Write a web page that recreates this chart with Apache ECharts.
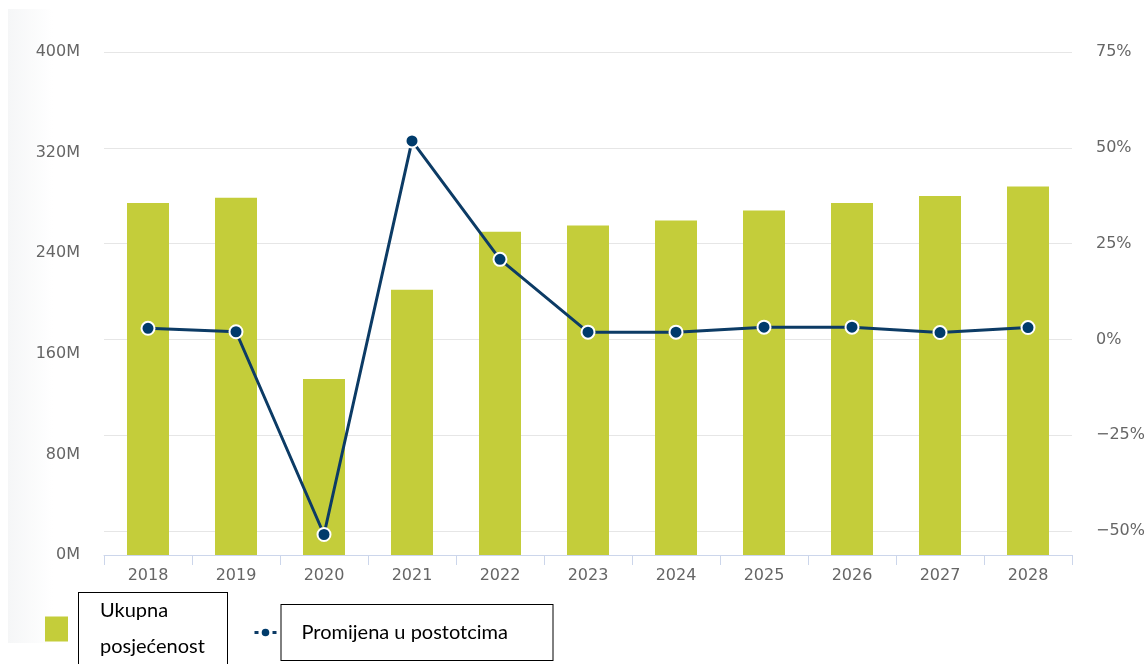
<!DOCTYPE html>
<html>
<head>
<meta charset="utf-8">
<script src="https://cdn.jsdelivr.net/npm/echarts@6/dist/echarts.min.js"></script>
<style>
    html, body { margin: 0; padding: 0; background: #fff; }
    #chart { width: 1148px; height: 664px; }
</style>
</head>
<body>
<div id="chart"></div>
<script>
const years = ["2018", "2019", "2020", "2021", "2022", "2023", "2024", "2025", "2026", "2027", "2028"];
// ukupna posjecenost, u milijunima
const attendance = [280, 284, 140, 211, 257, 262, 266, 274, 280, 285.5, 293];
// promjena u postotcima
const change = [2.9, 2.0, -50.9, 51.8, 20.9, 1.9, 1.9, 3.2, 3.2, 1.8, 3.1];
const leftTicks = [0, 80, 160, 240, 320, 400];
const rightTicks = [-50, -25, 0, 25, 50, 75];

const BAR_NAME = "Ukupna posjećenost";
const LINE_NAME = "Promijena u postotcima";
const labelFont = "DejaVu Sans";

const chart = echarts.init(document.getElementById("chart"));

chart.setOption({
    animation: false,
    backgroundColor: "#fff",
    graphic: [
        {
            type: "rect",
            z: -10,
            shape: { x: 8, y: 9, width: 45, height: 634 },
            style: {
                fill: new echarts.graphic.LinearGradient(0, 0, 1, 0, [
                    { offset: 0, color: "#f5f6f7" },
                    { offset: 1, color: "#ffffff" }
                ])
            }
        }
    ],
    legend: [
        {
            left: 45,
            top: 592,
            padding: 0,
            itemWidth: 29,
            itemHeight: 25,
            data: [
                {
                    name: BAR_NAME,
                    // square plus an empty point, so the box sits a bit further right
                    icon: "path://M0,0H23V25H0Z M29,25Z",
                    textStyle: {
                        fontFamily: "Lato",
                        fontSize: 20,
                        color: "#000",
                        lineHeight: 36,
                        width: 117,
                        padding: [0, 10, 0, 21],
                        borderColor: "#000",
                        borderWidth: 1,
                        backgroundColor: "#fff"
                    }
                }
            ],
            formatter(name) {
                return name === BAR_NAME ? "Ukupna\nposjećenost" : name;
            }
        },
        {
            left: 253,
            top: 604,
            padding: 0,
            itemWidth: 22,
            itemHeight: 12,
            data: [
                {
                    name: LINE_NAME,
                    textStyle: {
                        fontFamily: "Lato",
                        fontSize: 20,
                        color: "#000",
                        lineHeight: 55,
                        height: 55,
                        width: 241,
                        padding: [0, 10, 0, 20],
                        borderColor: "#000",
                        borderWidth: 1,
                        backgroundColor: "#fff"
                    }
                }
            ],
            lineStyle: { type: [4, 2], width: 3 }
        }
    ],
    grid: {
        left: 104,
        right: 76,
        top: 52,
        bottom: 109
    },
    xAxis: {
        type: "category",
        data: years,
        axisLine: { lineStyle: { color: "#ccd6eb", width: 1 } },
        axisTick: { show: true, length: 10, lineStyle: { color: "#ccd6eb" } },
        axisLabel: {
            margin: 13,
            fontFamily: labelFont,
            fontSize: 16,
            color: "#666"
        },
        splitLine: { show: false }
    },
    yAxis: [
        {
            type: "value",
            min: 0,
            max: 400,
            interval: 80,
            axisLine: { show: false },
            axisTick: { show: false },
            splitLine: { show: false },
            axisLabel: {
                margin: 24,
                fontFamily: labelFont,
                fontSize: 16,
                color: "#666",
                customValues: leftTicks,
                formatter: v => v + "M"
            }
        },
        {
            type: "value",
            min: -56.25,
            max: 75,
            position: "right",
            axisLine: { show: false },
            axisTick: { show: false, customValues: rightTicks },
            splitLine: { show: true, lineStyle: { color: "#e6e6e6", width: 1 } },
            axisLabel: {
                margin: 24,
                fontFamily: labelFont,
                fontSize: 16,
                color: "#666",
                customValues: rightTicks,
                formatter: v => (v < 0 ? "\u2212" + Math.abs(v) : v) + "%"
            }
        }
    ],
    series: [
        {
            name: BAR_NAME,
            type: "bar",
            yAxisIndex: 0,
            barWidth: 42,
            data: attendance,
            itemStyle: { color: "#c4cd3a" },
            z: 2
        },
        {
            name: LINE_NAME,
            type: "line",
            yAxisIndex: 1,
            data: change,
            symbol: "circle",
            symbolSize: 13,
            lineStyle: { color: "#0c3b65", width: 3 },
            itemStyle: { color: "#003b6b", borderColor: "#fff", borderWidth: 2 },
            z: 3
        }
    ]
});
</script>
</body>
</html>
